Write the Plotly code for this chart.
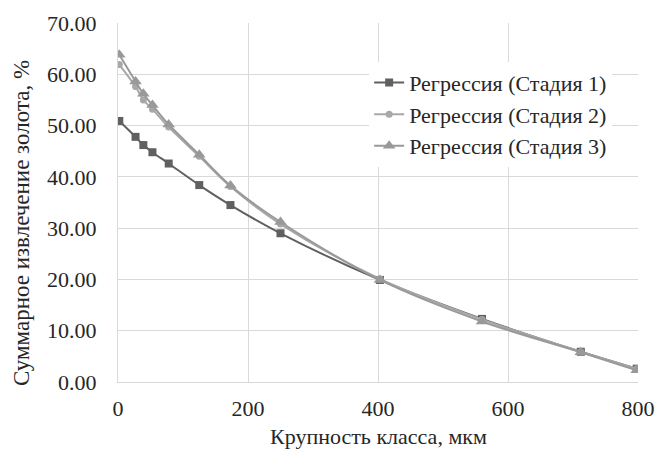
import plotly.graph_objects as go

# Крупность класса, мкм
size_um = [2, 27, 39, 53, 78, 125, 173, 250, 403, 560, 712, 798]

# Суммарное извлечение золота, %
stage1 = [50.9, 47.8, 46.2, 44.8, 42.6, 38.4, 34.5, 29.0, 19.9, 12.3, 5.9, 2.6]
stage2 = [61.9, 57.6, 55.0, 53.2, 49.7, 44.0, 38.1, 30.8, 20.1, 12.2, 5.9, 2.6]
stage3 = [63.8, 58.6, 56.2, 54.0, 50.2, 44.3, 38.3, 31.2, 19.9, 11.8, 5.8, 2.3]

names = ["Регрессия (Стадия 1)", "Регрессия (Стадия 2)", "Регрессия (Стадия 3)"]
x_title = "Крупность класса, мкм"
y_title = "Суммарное извлечение золота, %"

fnt = "Times New Roman, Liberation Serif, serif"
txt = "#262626"

fig = go.Figure()
fig.add_trace(go.Scatter(
    x=size_um, y=stage1, name=names[0], mode="lines+markers",
    line=dict(color="#606060", width=2, shape="spline"),
    marker=dict(symbol="square", size=8, color="#606060")
))
fig.add_trace(go.Scatter(
    x=size_um, y=stage2, name=names[1], mode="lines+markers",
    line=dict(color="#a8a8a8", width=2, shape="spline"),
    marker=dict(symbol="circle", size=7, color="#a8a8a8")
))
fig.add_trace(go.Scatter(
    x=size_um, y=stage3, name=names[2], mode="lines+markers",
    line=dict(color="#999999", width=2, shape="spline"),
    marker=dict(symbol="triangle-up", size=11, color="#999999")
))

fig.update_layout(
    width=657, height=449,
    margin=dict(l=118, r=19, t=23, b=67),
    paper_bgcolor="white", plot_bgcolor="white",
    font=dict(family=fnt, size=22, color=txt),
    showlegend=True,
    legend=dict(
        x=0.483, y=0.892, xanchor="left", yanchor="top",
        bgcolor="white", font=dict(family=fnt, size=22, color=txt),
        itemwidth=30, tracegroupgap=0
    ),
    xaxis=dict(
        range=[0, 800], dtick=200, tick0=0, automargin=False,
        showgrid=True, gridcolor="#d9d9d9", gridwidth=1,
        showline=True, linecolor="#d9d9d9", zeroline=False,
        ticks="", ticklabelstandoff=7,
        tickfont=dict(family=fnt, size=22, color=txt),
    ),
    yaxis=dict(
        range=[0, 70], dtick=10, tickformat=".2f", automargin=False,
        showgrid=True, gridcolor="#d9d9d9", gridwidth=1,
        showline=True, linecolor="#d9d9d9", zeroline=False,
        ticks="", ticklabelstandoff=16,
        tickfont=dict(family=fnt, size=22, color=txt),
    ),
    annotations=[
        dict(text=x_title, xref="paper", yref="paper", x=0.5, y=-0.153,
             xanchor="center", yanchor="middle", showarrow=False,
             font=dict(family=fnt, size=22, color=txt)),
        dict(text=y_title, xref="paper", yref="paper", x=-0.1846, y=0.443,
             xanchor="center", yanchor="middle", textangle=-90, showarrow=False,
             font=dict(family=fnt, size=23, color=txt)),
    ],
)

# drop the default 8px page margin so the figure fills the window exactly
fig.write_html(
    "out.html",
    config={"displayModeBar": False},
    post_script="document.body.style.margin='0';document.body.style.overflow='hidden';"
)
